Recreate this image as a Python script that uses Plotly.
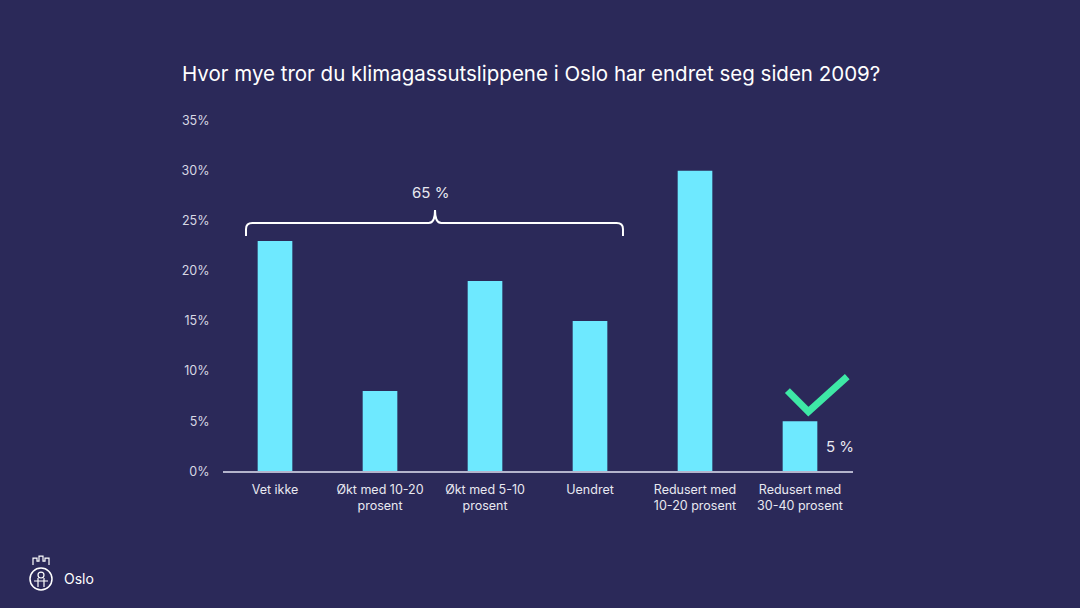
import plotly.graph_objects as go

categories = ["Vet ikke", "Økt med 10-20<br>prosent", "Økt med 5-10<br>prosent", "Uendret",
              "Redusert med<br>10-20 prosent", "Redusert med<br>30-40 prosent"]
values = [23, 8, 19, 15, 30, 5]
y_ticks = [0, 5, 10, 15, 20, 25, 30, 35]
y_tick_text = ["0%", "5%", "10%", "15%", "20%", "25%", "30%", "35%"]
brace_label = "65 %"
correct_label = "5 %"

BG = "#2b2959"
BAR = "#6ee9ff"
GREEN = "#3ee8a6"
FONT = "Inter, Roboto, sans-serif"


def py(t):
    # pixel row (from top) -> paper y, compensating observed render scaling
    return 1 - ((t - 7) / 0.977) / 608


def px(t):
    return t / 1080


xpos = list(range(len(categories)))

fig = go.Figure()
fig.add_trace(go.Bar(x=xpos, y=values, marker=dict(color=BAR, line=dict(width=0)),
                     width=0.33, hoverinfo="skip"))

# brace over first four bars (data coords)
x0, x1, xm = -0.276, 3.314, 1.524
yb, yl, yt = 23.5, 24.8, 26.1
r = 0.06
path = (f"M {x0},{yb} L {x0},{yl-0.6} Q {x0},{yl} {x0+r},{yl} "
        f"L {xm-r},{yl} Q {xm},{yl} {xm},{yt} Q {xm},{yl} {xm+r},{yl} "
        f"L {x1-r},{yl} Q {x1},{yl} {x1},{yl-0.6} L {x1},{yb}")
fig.add_shape(type="path", path=path, xref="x", yref="y",
              line=dict(color="white", width=2))
fig.add_annotation(x=1.48, y=27.8, xref="x", yref="y", text=brace_label, showarrow=False,
                   font=dict(family=FONT, size=15, color="#e8e8f0"))

# checkmark above correct answer
fig.add_shape(type="path", xref="x", yref="y",
              path="M 4.88,8.05 L 5.08,5.95 L 5.45,9.45",
              line=dict(color=GREEN, width=7))
fig.add_annotation(x=5.23, y=2.5, xref="x", yref="y", text=correct_label, showarrow=False,
                   xanchor="left", font=dict(family=FONT, size=15, color="#e8e8f0"))

# title
fig.add_annotation(x=px(180), y=py(73), xref="paper", yref="paper",
                   text="Hvor mye tror du klimagassutslippene i Oslo har endret seg siden 2009?",
                   showarrow=False, xanchor="left", yanchor="middle",
                   font=dict(family=FONT, size=20.5, color="white"))

# Oslo logo
fig.add_shape(type="circle", xref="paper", yref="paper",
              x0=px(30), x1=px(52), y0=py(590), y1=py(568),
              line=dict(color="white", width=1.5))
fig.add_shape(type="path", xref="paper", yref="paper",
              path=(f"M {px(33)},{py(565)} L {px(33)},{py(558)} L {px(37)},{py(558)} L {px(37)},{py(561)} "
                    f"L {px(39)},{py(561)} L {px(39)},{py(556)} L {px(43)},{py(556)} L {px(43)},{py(561)} "
                    f"L {px(45)},{py(561)} L {px(45)},{py(558)} L {px(49)},{py(558)} L {px(49)},{py(565)}"),
              line=dict(color="white", width=1.2))
fig.add_shape(type="circle", xref="paper", yref="paper",
              x0=px(38), x1=px(44), y0=py(578), y1=py(572),
              line=dict(color="white", width=1.2))
fig.add_shape(type="path", xref="paper", yref="paper",
              path=(f"M {px(34)},{py(581)} L {px(48)},{py(581)} M {px(38)},{py(578)} L {px(38)},{py(587)} "
                    f"M {px(44)},{py(578)} L {px(44)},{py(587)}"),
              line=dict(color="white", width=1.2))
fig.add_annotation(x=px(62), y=py(578), xref="paper", yref="paper", text="Oslo",
                   showarrow=False, xanchor="left", yanchor="middle",
                   font=dict(family=FONT, size=14, color="white"))

fig.update_layout(
    width=1080, height=608,
    paper_bgcolor=BG, plot_bgcolor=BG,
    margin=dict(l=0, r=0, t=0, b=0),
    showlegend=False,
    font=dict(family=FONT, color="#e0e0ea"),
    xaxis=dict(domain=[px(222.5), px(852.5)], range=[-0.5, 5.5],
               tickvals=xpos, ticktext=categories, showgrid=False, zeroline=False,
               showline=True, linecolor="#b4b4cc", linewidth=2,
               tickfont=dict(family=FONT, size=12.5, color="#e8e8f0"),
               ticks="", ticklabelstandoff=6),
    yaxis=dict(domain=[py(471), py(120)], range=[0, 35],
               tickvals=y_ticks, ticktext=y_tick_text, showgrid=False, zeroline=False,
               showline=False, ticks="", ticklabelstandoff=12,
               tickfont=dict(family=FONT, size=12.5, color="#d8d8e4")),
)

fig.write_html("out.html")
